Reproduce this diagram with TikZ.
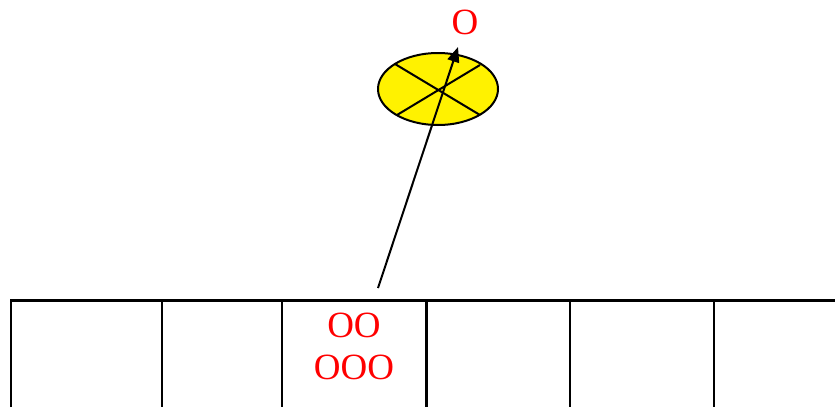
\documentclass[tikz,border=0pt]{standalone}
\usepackage{fontspec}
\setmainfont{Liberation Serif}
\usetikzlibrary{arrows.meta}
\begin{document}
\begin{tikzpicture}[x=1pt,y=-1pt,
  gridline/.style={line width=2.6pt, black},
  redtext/.style={text=red, font=\fontsize{37}{42}\selectfont, inner sep=0pt, align=center},
  disc/.style={draw=black, line width=2pt, fill=yellow},
  ptr/.style={line width=2pt, -{Triangle[length=15pt,width=12pt]}}]
\useasboundingbox (0,0) rectangle (835,407);
% table
\draw[gridline] (11,407) -- (11,300.5) -- (835,300.5);
\foreach \x in {162,282,426.5,570,714} \draw[gridline] (\x,300.5) -- (\x,407);
% ellipse
\coordinate (ec) at (438,89);
\draw[disc] (ec) ellipse [x radius=60, y radius=36];
\draw[line width=2pt] (395,64) -- (480,115);
\draw[line width=2pt] (480,65) -- (397,115);
% labels
\node[redtext] (top) at (465,22) {O};
\node[redtext] (cellA) at (354,325) {OO};
\node[redtext] (cellB) at (354,367) {OOO};
% arrow
\coordinate (from) at (378,288);
\coordinate (to) at (458,47);
\draw[ptr] (from) -- (to);
\end{tikzpicture}
\end{document}
